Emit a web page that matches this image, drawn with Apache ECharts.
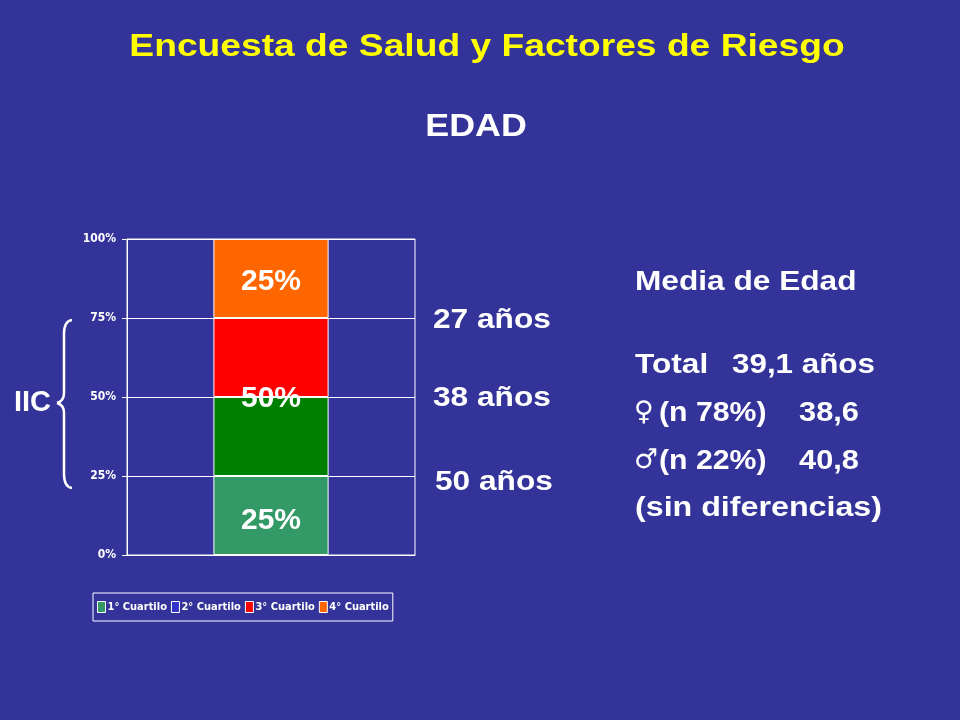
<!DOCTYPE html>
<html><head><meta charset="utf-8">
<script src="https://cdn.jsdelivr.net/npm/echarts@6/dist/echarts.min.js"></script>
<style>html,body{margin:0;padding:0;background:#333399;}#c{width:960px;height:720px;}</style>
</head><body><div id="c"></div>
<script>
const categories = ['Edad'];
const seriesNames = ['1° Cuartilo', '2° Cuartilo', '3° Cuartilo', '4° Cuartilo'];
const q1 = [25];
const q2 = [25];
const q3 = [25];
const q4 = [25];
const segLabels = ['25%', '50%', '', '25%'];
const yTicks = [0, 25, 50, 75, 100];
const ageLabels = ['27 años', '38 años', '50 años'];
const titleText = 'Encuesta de Salud y Factores de Riesgo';
const subTitle = 'EDAD';
const mediaTitle = 'Media de Edad';
const totalLabel = 'Total';
const totalValue = '39,1 años';
const femLabel = '(n 78%)';
const femValue = '38,6';
const masLabel = '(n 22%)';
const masValue = '40,8';
const note = '(sin diferencias)';

const F = '"Liberation Sans", Arial, sans-serif';
const COND = '"DejaVu Sans Condensed", "Liberation Sans", sans-serif';
const colors = ['#339966', '#008000', '#FF0000', '#FF6600'];
const legendColors = ['#339966', '#3333CC', '#FF0000', '#FF6600'];

const chart = echarts.init(document.getElementById('c'));
const lblOffsets = [[0, 5], [0, 2], [0, 0], [0, 3]];
const lbl = (txt, pos, off) => ({
  show: !!txt, formatter: txt, color: '#fff', fontFamily: F, fontWeight: 'bold', fontSize: 30,
  position: pos, align: 'center', verticalAlign: 'middle', offset: off
});
const data = [q1, q2, q3, q4];
const braceStyle = { stroke: '#fff', lineWidth: 2.5, fill: null };
const txt = (t, x, y, size, sx, extra) => Object.assign({
  type: 'text', x: x, y: y, scaleX: sx, z: 10,
  style: { text: t, fill: '#fff', font: 'bold ' + size + 'px ' + F, verticalAlign: 'middle', align: 'left' }
}, extra || {});

chart.setOption({
  backgroundColor: '#333399',
  animation: false,
  grid: { left: 127, right: 545, top: 239, bottom: 165, show: true, borderColor: '#fff', borderWidth: 1, backgroundColor: 'transparent' },
  xAxis: { type: 'category', data: categories, axisLine: { lineStyle: { color: '#fff' } }, axisTick: { show: false }, axisLabel: { show: false } },
  yAxis: { type: 'value', min: 0, max: 100, interval: 25,
    axisLine: { show: true, lineStyle: { color: '#fff' } },
    axisTick: { show: true, length: 5, lineStyle: { color: '#fff' } },
    splitLine: { lineStyle: { color: '#fff', width: 1 } },
    axisLabel: { color: '#fff', fontFamily: COND, fontWeight: 'bold', fontSize: 12, margin: 11,
      formatter: v => yTicks.includes(v) ? v + '%' : '' } },
  legend: {
    left: 93, top: 593, orient: 'horizontal', padding: [8, 4, 8, 4], itemGap: 4,
    borderColor: '#fff', borderWidth: 1, itemWidth: 8, itemHeight: 11,
    textStyle: { color: '#fff', fontFamily: COND, fontWeight: 'bold', fontSize: 11, padding: [0, 0, 0, -3] },
    data: seriesNames.map((n, i) => ({ name: n, icon: 'rect', itemStyle: { color: legendColors[i], borderColor: '#fff', borderWidth: 1 } }))
  },
  series: seriesNames.map((n, i) => ({
    name: n, type: 'bar', stack: 'a', barWidth: '40%', data: data[i], z: i === 1 ? 5 : 2,
    itemStyle: { color: colors[i], borderColor: '#fff', borderWidth: 1 },
    label: lbl(segLabels[i], i === 1 ? ['50%', 0] : 'inside', lblOffsets[i])
  })),
  graphic: [
    { type: 'text', x: 487, y: 47, scaleX: 1.2, z: 10,
      style: { text: titleText, fill: '#FFFF00', font: 'bold 31px ' + F, align: 'center', verticalAlign: 'middle',
        shadowColor: 'rgba(10,10,30,0.9)', shadowOffsetX: 2, shadowOffsetY: 2, shadowBlur: 1 } },
    { type: 'text', x: 476, y: 127, scaleX: 1.12, z: 10,
      style: { text: subTitle, fill: '#fff', font: 'bold 32px ' + F, align: 'center', verticalAlign: 'middle' } },
    ...ageLabels.map((t, i) => txt(t, [433, 433, 435][i], [320, 398, 482][i], 28, 1.13)),
    txt(mediaTitle, 635, 282, 28, 1.13),
    txt(totalLabel, 635, 365, 28, 1.13),
    txt(totalValue, 732, 365, 28, 1.12),
    txt('\u2640', 634, 413, 27, 1.0, { style: { text: '\u2640', fill: '#fff', font: 'bold 27px "DejaVu Sans", sans-serif', verticalAlign: 'middle', align: 'left' } }),
    txt(femLabel, 659, 413, 28, 1.08),
    txt(femValue, 799, 413, 28, 1.1),
    txt('\u2642', 634, 461, 27, 1.0, { style: { text: '\u2642', fill: '#fff', font: 'bold 27px "DejaVu Sans", sans-serif', verticalAlign: 'middle', align: 'left' } }),
    txt(masLabel, 659, 461, 28, 1.08),
    txt(masValue, 799, 461, 28, 1.1),
    txt(note, 635, 508, 28, 1.15),
    txt('IIC', 14, 403, 29, 1.0),
    { type: 'bezierCurve', shape: { x1: 72, y1: 320, cpx1: 64, cpy1: 321, x2: 64, y2: 334 }, style: braceStyle },
    { type: 'line', shape: { x1: 64, y1: 334, x2: 64, y2: 393 }, style: braceStyle },
    { type: 'bezierCurve', shape: { x1: 64, y1: 393, cpx1: 64, cpy1: 401, x2: 57, y2: 403 }, style: braceStyle },
    { type: 'bezierCurve', shape: { x1: 57, y1: 403, cpx1: 64, cpy1: 405, x2: 64, y2: 413 }, style: braceStyle },
    { type: 'line', shape: { x1: 64, y1: 413, x2: 64, y2: 474 }, style: braceStyle },
    { type: 'bezierCurve', shape: { x1: 64, y1: 474, cpx1: 64, cpy1: 487, x2: 72, y2: 488 }, style: braceStyle }
  ]
});
</script></body></html>
